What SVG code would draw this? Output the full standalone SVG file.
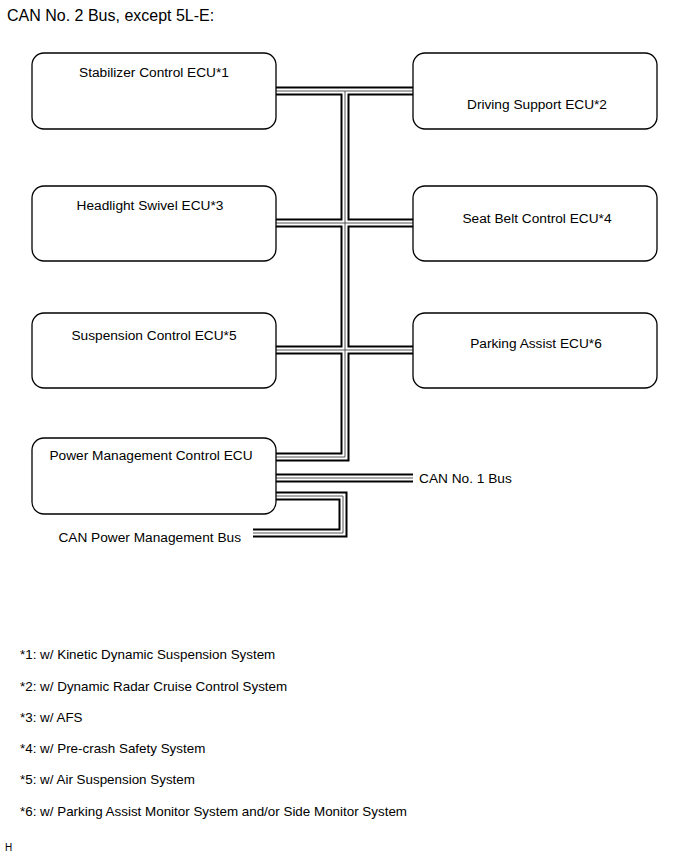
<svg xmlns="http://www.w3.org/2000/svg" width="690" height="854" viewBox="0 0 690 854">
<style>
text{font-family:"Liberation Sans",Arial,sans-serif;fill:#000}
.lbl{font-size:13.7px;text-anchor:middle}
.fn{font-size:13.4px}
.box{fill:#fff;stroke:#000;stroke-width:1.3}
.b1{fill:none;stroke:#000;stroke-width:9}
.b2{fill:none;stroke:#fff;stroke-width:5}
.b3{fill:none;stroke:#555;stroke-width:1}
</style>
<rect width="690" height="854" fill="#fff"/>
<text x="7" y="21" style="font-size:16px">CAN No. 2 Bus, except 5L-E:</text>
<g id="connectors">
<g class="b1">
<path d="M276 91H413M345 91V457H276M276 223H413M276 350H413M276 478H413M276 496H343V533H253"/>
</g>
<g class="b2">
<path d="M276 91H413M345 91V457H276M276 223H413M276 350H413M276 478H413M276 496H343V533H253"/>
</g>
<g class="b3">
<path d="M276 91H413M345 91V457H276M276 223H413M276 350H413M276 478H413M276 496H343V533H253"/>
</g>
</g>
<g id="n1"><rect class="box" x="32" y="53" width="244" height="76" rx="12"/><text class="lbl" x="154" y="77">Stabilizer Control ECU*1</text></g>
<g id="n2"><rect class="box" x="413" y="53" width="244" height="76" rx="12"/><text class="lbl" x="537" y="109">Driving Support ECU*2</text></g>
<g id="n3"><rect class="box" x="32" y="186" width="244" height="75" rx="12"/><text class="lbl" x="150" y="210">Headlight Swivel ECU*3</text></g>
<g id="n4"><rect class="box" x="413" y="186" width="244" height="75" rx="12"/><text class="lbl" x="537" y="223">Seat Belt Control ECU*4</text></g>
<g id="n5"><rect class="box" x="32" y="313" width="244" height="75" rx="12"/><text class="lbl" x="154" y="340">Suspension Control ECU*5</text></g>
<g id="n6"><rect class="box" x="413" y="313" width="244" height="75" rx="12"/><text class="lbl" x="536" y="348">Parking Assist ECU*6</text></g>
<g id="n7"><rect class="box" x="32" y="438" width="244" height="76" rx="12"/><text class="lbl" x="151" y="460">Power Management Control ECU</text></g>
<text x="419" y="483" style="font-size:13.7px">CAN No. 1 Bus</text>
<text x="241" y="542" style="font-size:13.7px;text-anchor:end">CAN Power Management Bus</text>
<text class="fn" x="20" y="659">*1: w/ Kinetic Dynamic Suspension System</text>
<text class="fn" x="20" y="691">*2: w/ Dynamic Radar Cruise Control System</text>
<text class="fn" x="20" y="722">*3: w/ AFS</text>
<text class="fn" x="20" y="753">*4: w/ Pre-crash Safety System</text>
<text class="fn" x="20" y="784">*5: w/ Air Suspension System</text>
<text class="fn" x="20" y="816">*6: w/ Parking Assist Monitor System and/or Side Monitor System</text>
<text x="5" y="851" style="font-size:10px">H</text>
</svg>
